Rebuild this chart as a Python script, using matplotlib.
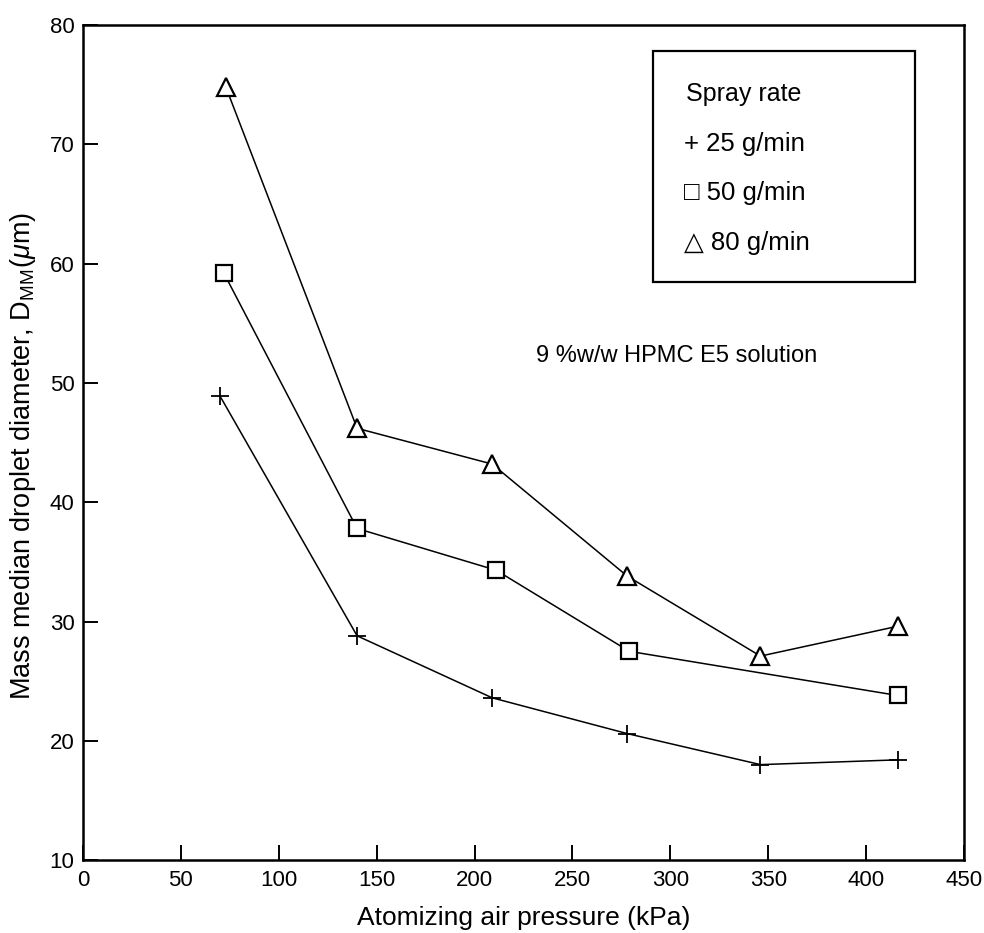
import matplotlib
matplotlib.use("Agg")
from matplotlib import pyplot as plt
from matplotlib.patches import Rectangle

plt.rcParams['font.family'] = ['Liberation Sans', 'DejaVu Sans']
plt.rcParams['mathtext.fontset'] = 'custom'
plt.rcParams['mathtext.rm'] = 'Liberation Sans'
plt.rcParams['mathtext.it'] = 'Liberation Sans:italic'

# spray rate 25 g/min
p25 = [70, 140, 209, 278, 346, 416]
d25 = [48.9, 28.8, 23.6, 20.6, 18.0, 18.4]
# spray rate 50 g/min
p50 = [72, 140, 211, 279, 416]
d50 = [59.2, 37.8, 34.3, 27.5, 23.8]
# spray rate 80 g/min
p80 = [73, 140, 209, 278, 346, 416]
d80 = [74.8, 46.2, 43.2, 33.8, 27.1, 29.6]

xticks = [0, 50, 100, 150, 200, 250, 300, 350, 400, 450]
yticks = [10, 20, 30, 40, 50, 60, 70, 80]

fig = plt.figure(figsize=(9.84, 9.33), dpi=100)
ax = fig.add_axes([0.0843, 0.0782, 0.8955, 0.8948])

ax.plot(p25, d25, color='black', lw=1.1, marker='+', ms=13, mew=1.3)
ax.plot(p50, d50, color='black', lw=1.1, marker='s', ms=12, mew=1.6, mfc='white')
ax.plot(p80, d80, color='black', lw=1.1, marker='^', ms=13, mew=1.6, mfc='white')

ax.set_xlim(0, 450)
ax.set_ylim(10, 80)
ax.set_xticks(xticks)
ax.set_yticks(yticks)
ax.tick_params(direction='in', length=11, width=1.4, labelsize=16)
ax.tick_params(axis='x', pad=7)
ax.tick_params(axis='y', pad=6)
for s in ax.spines.values():
    s.set_linewidth(1.8)

ax.set_xlabel('Atomizing air pressure (kPa)', fontsize=19)
ax.xaxis.set_label_coords(0.5, -0.055)
ax.set_ylabel(r'Mass median droplet diameter, D$_{\mathregular{MM}}$($\mu$m)',
              fontsize=19.5)
ax.yaxis.set_label_coords(-0.051, 0.484)

# legend box drawn by hand
ax.add_patch(Rectangle((291, 58.5), 134, 19.3, fill=False, lw=1.6,
                       edgecolor='black', zorder=3))
ax.text(308, 74.2, 'Spray rate', fontsize=18, va='center')
ax.text(307, 70.0, '+ 25 g/min', fontsize=18.5, va='center')
ax.text(307, 65.9, '\u25a1 50 g/min', fontsize=18.5, va='center')
ax.text(307, 61.7, '\u25b3 80 g/min', fontsize=18.5, va='center')

ax.text(375, 52.3, '9 %w/w HPMC E5 solution', fontsize=17, ha='right', va='center')

fig.savefig('out.png', dpi=100)
